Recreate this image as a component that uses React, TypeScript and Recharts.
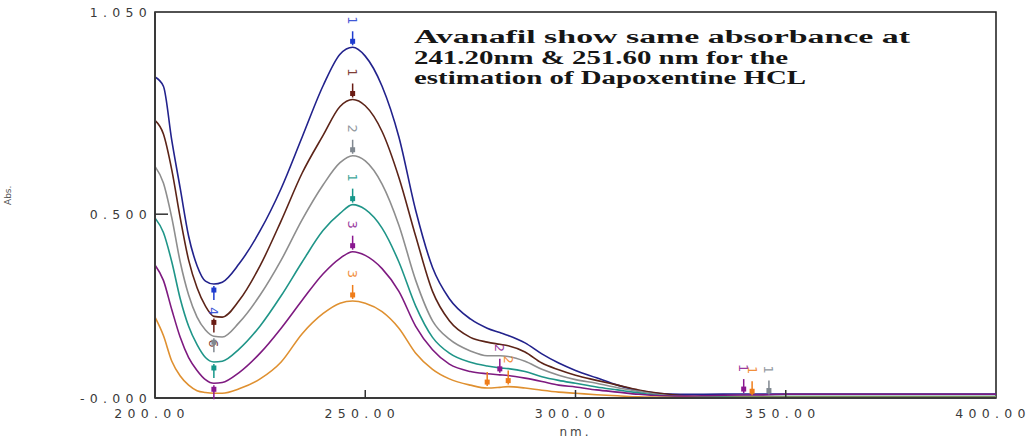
import React from "react";
import { LineChart, Line, XAxis, YAxis, ReferenceArea } from "recharts";

// UV absorbance overlay, six dilutions, 200–400 nm.

const wavelengths = [
  200, 202, 204, 206, 208, 210, 212, 214, 216, 220, 225, 230, 235, 240, 244, 247, 250, 254, 258, 262, 266, 270,
  275, 279, 282, 284, 288, 292, 296, 300, 305, 310, 315, 320, 325, 330, 340, 342, 346, 350, 360, 380, 400,
];

const blueAbs = [
  0.873, 0.848, 0.7, 0.57, 0.44, 0.36, 0.318, 0.31, 0.315, 0.365, 0.455, 0.57, 0.71, 0.85, 0.935, 0.954, 0.93,
  0.848, 0.71, 0.51, 0.355, 0.27, 0.215, 0.19, 0.178, 0.17, 0.15, 0.12, 0.095, 0.075, 0.055, 0.035, 0.02, 0.012,
  0.01, 0.01, 0.011, 0.011, 0.011, 0.011, 0.011, 0.011, 0.011,
];
const brownAbs = [
  0.755, 0.718, 0.62, 0.49, 0.375, 0.3, 0.25, 0.222, 0.22, 0.265, 0.36, 0.482, 0.612, 0.715, 0.793, 0.812, 0.795,
  0.725, 0.6, 0.44, 0.29, 0.21, 0.165, 0.152, 0.146, 0.142, 0.125, 0.095, 0.077, 0.062, 0.048, 0.035, 0.022, 0.013,
  0.007, 0.004, 0.003, 0.003, 0.003, 0.003, 0.003, 0.003, 0.003,
];
const greyAbs = [
  0.63, 0.585, 0.49, 0.37, 0.28, 0.22, 0.185, 0.168, 0.166, 0.205, 0.28, 0.375, 0.485, 0.58, 0.64, 0.659, 0.645,
  0.582, 0.47, 0.32, 0.21, 0.16, 0.128, 0.115, 0.115, 0.113, 0.1, 0.078, 0.062, 0.05, 0.04, 0.028, 0.018, 0.009,
  0.005, 0.004, 0.004, 0.004, 0.004, 0.004, 0.004, 0.004, 0.004,
];
const tealAbs = [
  0.49, 0.45, 0.37, 0.27, 0.195, 0.145, 0.11, 0.098, 0.1, 0.133, 0.196, 0.278, 0.37, 0.456, 0.502, 0.526, 0.513,
  0.462, 0.37, 0.25, 0.165, 0.122, 0.097, 0.087, 0.082, 0.08, 0.072, 0.058, 0.048, 0.04, 0.03, 0.022, 0.014, 0.007,
  0.004, 0.003, 0.004, 0.004, 0.004, 0.004, 0.004, 0.004, 0.004,
];
const purpleAbs = [
  0.362, 0.32, 0.24, 0.165, 0.11, 0.075, 0.05, 0.04, 0.042, 0.069, 0.122, 0.19, 0.266, 0.338, 0.38, 0.398, 0.388,
  0.352, 0.29, 0.195, 0.131, 0.092, 0.072, 0.066, 0.063, 0.061, 0.054, 0.045, 0.035, 0.03, 0.022, 0.016, 0.01,
  0.006, 0.005, 0.006, 0.008, 0.008, 0.009, 0.01, 0.01, 0.01, 0.01,
];
const orangeAbs = [
  0.22, 0.17, 0.1, 0.06, 0.035, 0.02, 0.015, 0.013, 0.013, 0.025, 0.052, 0.098, 0.175, 0.23, 0.258, 0.264, 0.258,
  0.235, 0.19, 0.122, 0.078, 0.052, 0.035, 0.027, 0.029, 0.031, 0.027, 0.021, 0.016, 0.013, 0.009, 0.006, 0.003,
  0.002, 0.001, 0.001, 0.002, 0.002, 0.002, 0.002, 0.002, 0.002, 0.002,
];

const xTicks = [200, 250, 300, 350, 400];
const yTicks = [0, 0.5, 1.0, 1.05];
const topTicks = [300, 350];

const noteLines = [
  "Avanafil show same absorbance at",
  "241.20nm & 251.60 nm for the",
  "estimation of Dapoxentine HCL",
];

// peak-pick arrows the instrument prints on each trace
type Mark = { nm: number; label?: string; side: "above" | "below" };

const blueMarks: Mark[] = [
  { nm: 247, label: "1", side: "above" },
  { nm: 214, label: "4", side: "below" },
];
const brownMarks: Mark[] = [
  { nm: 247, label: "1", side: "above" },
  { nm: 214, label: "6", side: "below" },
];
const greyMarks: Mark[] = [
  { nm: 247, label: "2", side: "above" },
  { nm: 214, side: "below" },
  { nm: 346, label: "1", side: "above" },
];
const tealMarks: Mark[] = [
  { nm: 247, label: "1", side: "above" },
  { nm: 214, side: "below" },
];
const purpleMarks: Mark[] = [
  { nm: 247, label: "3", side: "above" },
  { nm: 214, side: "below" },
  { nm: 282, label: "2", side: "above" },
  { nm: 340, label: "1", side: "above" },
];
const orangeMarks: Mark[] = [
  { nm: 247, label: "3", side: "above" },
  { nm: 279, side: "above" },
  { nm: 284, label: "2", side: "above" },
  { nm: 342, label: "1", side: "above" },
];

const series = [
  { key: "blue", values: blueAbs, stroke: "#22228c", mark: "#1f3ccf", marks: blueMarks },
  { key: "brown", values: brownAbs, stroke: "#5c2418", mark: "#6a1c14", marks: brownMarks },
  { key: "grey", values: greyAbs, stroke: "#8e8e8e", mark: "#808890", marks: greyMarks },
  { key: "teal", values: tealAbs, stroke: "#1f9588", mark: "#16978a", marks: tealMarks },
  { key: "purple", values: purpleAbs, stroke: "#7e1a80", mark: "#8a1790", marks: purpleMarks },
  { key: "orange", values: orangeAbs, stroke: "#df9030", mark: "#ef7d1a", marks: orangeMarks },
];

const data = wavelengths.map((nm, i) => {
  const row: Record<string, number> = { nm };
  series.forEach((s) => {
    row[s.key] = s.values[i];
  });
  return row;
});

const TICK_FONT = "'DejaVu Sans', sans-serif";

function markDot(marks: Mark[], color: string) {
  return (props: any) => {
    const { cx, cy, payload, index } = props;
    const m = marks.find((mk) => mk.nm === payload?.nm);
    if (!m || cx == null || cy == null) return <g key={`d-${index}`} />;
    const dir = m.side === "above" ? -1 : 1;
    const head = cy + dir * 6;
    const ly = cy + dir * 27;
    return (
      <g key={`d-${index}`}>
        <line x1={cx} x2={cx} y1={cy + dir * 2} y2={cy + dir * 16} stroke={color} strokeWidth={1.5} />
        <rect x={cx - 2.5} y={head - 2.5} width={5} height={5} fill={color} />
        {m.label && (
          <text
            x={cx}
            y={ly}
            transform={`rotate(90 ${cx} ${ly})`}
            textAnchor="middle"
            dominantBaseline="central"
            fontSize={13}
            fontFamily={TICK_FONT}
            fill={color}
            opacity={0.85}
          >
            {m.label}
          </text>
        )}
      </g>
    );
  };
}

const YTick = (props: any) => {
  const { x, y, payload } = props;
  const v = payload.value as number;
  const text = v === 0 ? "-0.000" : v.toFixed(3);
  return (
    <g>
      {v > 0 && v < 1.05 && <line x1={x} x2={x + 13} y1={y} y2={y} stroke="#333" strokeWidth={1.5} />}
      <text
        x={x - 3}
        y={y}
        dy={4.5}
        textAnchor="end"
        fontSize={12.5}
        letterSpacing={5.3}
        fontFamily={TICK_FONT}
        fill="#3a3a3a"
      >
        {text}
      </text>
    </g>
  );
};

const XTick = (props: any) => {
  const { x, y, payload } = props;
  const v = payload.value as number;
  return (
    <g>
      {v > 200 && v < 400 && <line x1={x} x2={x} y1={y} y2={y - 8} stroke="#333" strokeWidth={1.5} />}
      <text
        x={x - 3}
        y={y}
        dy={19.5}
        textAnchor="middle"
        fontSize={12.5}
        letterSpacing={5.3}
        fontFamily={TICK_FONT}
        fill="#3a3a3a"
      >
        {v.toFixed(2)}
      </text>
    </g>
  );
};

const TopTick = (props: any) => {
  const { x, y } = props;
  return <line x1={x} x2={x} y1={y} y2={y + 8} stroke="#333" strokeWidth={1.5} />;
};

export default function App() {
  return (
    <div style={{ position: "absolute", left: 0, top: 0, width: 1032, height: 440, background: "#fff" }}>
      <LineChart width={1032} height={440} data={data} margin={{ top: 12, right: 36, bottom: 0, left: 0 }}>
        <XAxis
          dataKey="nm"
          type="number"
          domain={[200, 400]}
          ticks={xTicks}
          height={42}
          tickSize={0}
          tickMargin={0}
          tick={<XTick />}
          axisLine={{ stroke: "#3a3a3a", strokeWidth: 2 }}
          label={{
            value: "nm.",
            position: "insideBottom",
            offset: 4,
            fontSize: 12,
            letterSpacing: 3,
            fill: "#444",
            fontFamily: TICK_FONT,
          }}
        />
        <XAxis
          xAxisId="top"
          dataKey="nm"
          type="number"
          orientation="top"
          domain={[200, 400]}
          ticks={topTicks}
          height={0}
          tickSize={0}
          tickMargin={0}
          axisLine={false}
          tick={<TopTick />}
        />
        <YAxis
          type="number"
          domain={[0, 1.05]}
          ticks={yTicks}
          width={155}
          tickSize={0}
          tickMargin={0}
          tick={<YTick />}
          axisLine={{ stroke: "#3a3a3a", strokeWidth: 2 }}
          label={{
            value: "Abs.",
            angle: -90,
            position: "insideLeft",
            offset: 8,
            fontSize: 9,
            fill: "#555",
            fontFamily: TICK_FONT,
          }}
        />
        <ReferenceArea
          x1={200}
          x2={400}
          y1={0}
          y2={1.05}
          fill="none"
          stroke="#1a1a1a"
          strokeWidth={1.5}
          ifOverflow="visible"
        />
        {series.map((s) => (
          <Line
            key={s.key}
            type="monotone"
            dataKey={s.key}
            stroke={s.stroke}
            strokeWidth={1.6}
            dot={markDot(s.marks, s.mark)}
            activeDot={false}
            isAnimationActive={false}
          />
        ))}
      </LineChart>
      <svg
        width={1032}
        height={440}
        style={{ position: "absolute", left: 0, top: 0, pointerEvents: "none" }}
      >
        {noteLines.map((line, i) => (
          <text
            key={i}
            x={414}
            y={43 + i * 20.5}
            fontSize={18}
            fontWeight="bold"
            fontFamily="'Liberation Serif', 'Times New Roman', serif"
            fill="#161616"
            textLength={[496, 374, 392][i]}
            lengthAdjust="spacingAndGlyphs"
          >
            {line}
          </text>
        ))}
      </svg>
    </div>
  );
}
